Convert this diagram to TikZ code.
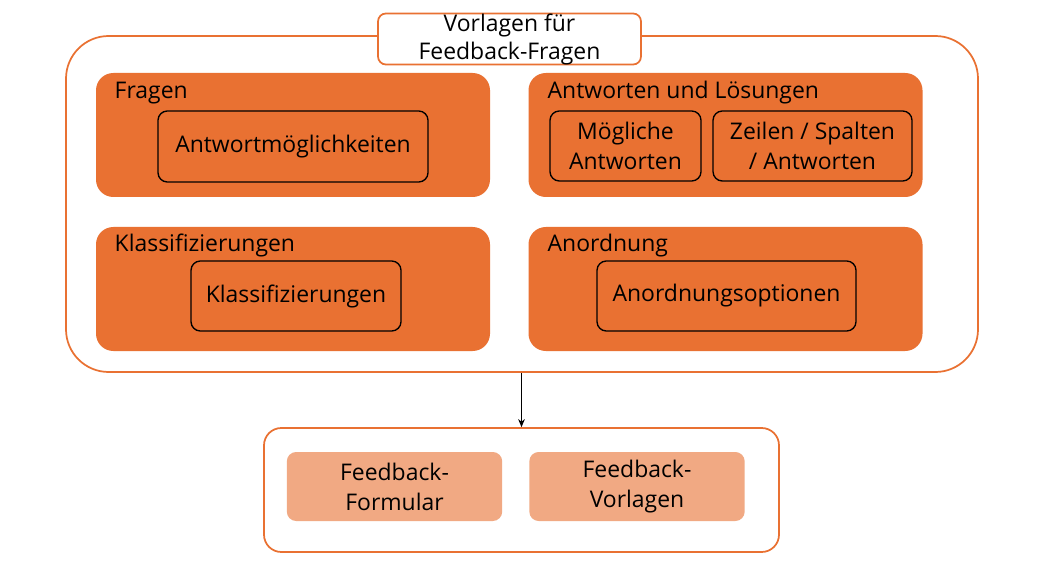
\documentclass[tikz,border=0pt]{standalone}
\usepackage{fontspec}
\setmainfont{Open Sans}
\usepackage{xcolor}
\usepackage{tikz}
\usetikzlibrary{positioning,arrows.meta}

\definecolor{vorlorange}{HTML}{E97132}
\definecolor{vorllight}{HTML}{F1A983}

\begin{document}
\begin{tikzpicture}[x=0.75pt, y=-0.75pt, >={Stealth[length=6pt, width=5pt]},
    font=\fontsize{17.2}{22.5}\selectfont,
    frame/.style={draw=vorlorange, line width=1.3pt, fill=white, rounded corners=#1},
    group/.style={fill=vorlorange, rounded corners=13pt, minimum width=295.5pt, minimum height=93pt, inner sep=0pt},
    item/.style={draw=black, line width=1pt, rounded corners=7pt, align=center, inner sep=0pt},
    result/.style={fill=vorllight, rounded corners=7pt, align=center, inner sep=0pt, minimum width=161.5pt, minimum height=51.75pt},
    grouplabel/.style={anchor=base west}]

\useasboundingbox (0,0) rectangle (1041,577);

% Outer frame with title
\node[frame=32pt, minimum width=684pt, minimum height=252pt, inner sep=0pt] (outer) at (522, 204) {};
\node[frame=6pt, minimum width=197.25pt, minimum height=37.5pt, inner sep=0pt, align=center, font=\fontsize{17.2}{21}\selectfont] (title) at (509.5, 39) {Vorlagen für\\Feedback-Fragen};

% Group: Fragen
\node[group] (fragen) at (293, 135) {};
\node[grouplabel] (fragenlab) at (110, 99) {Fragen};
\node[item, minimum width=202.5pt, minimum height=53.25pt] (moegl) at (293, 146.5) {Antwortmöglichkeiten};

% Group: Antworten und Loesungen
\node[group] (antw) at (725.5, 135) {};
\node[grouplabel] (antwlab) at (543, 99) {Antworten und Lösungen};
\node[item, minimum width=113.25pt, minimum height=52.5pt] (moeglantw) at (625.5, 146) {Mögliche\\Antworten};
\node[item, minimum width=149.25pt, minimum height=52.5pt] (zeilen) at (812.5, 146) {Zeilen / Spalten\\/ Antworten};

% Group: Klassifizierungen
\node[group] (klass) at (293, 289) {};
\node[grouplabel] (klasslab) at (110, 252) {Klassifizierungen};
\node[item, minimum width=157.5pt, minimum height=52.5pt] (klassitem) at (296, 296) {Klassifizierungen};

% Group: Anordnung
\node[group] (anord) at (725.5, 289) {};
\node[grouplabel] (anordlab) at (543, 252) {Anordnung};
\node[item, minimum width=194.25pt, minimum height=52.5pt] (anorditem) at (726.5, 296) {Anordnungsoptionen};

% Result frame
\node[frame=13pt, minimum width=386.25pt, minimum height=93pt, inner sep=0pt] (bottom) at (521.5, 490) {};
\node[result] (formular) at (394.5, 486.5) {Feedback-\\Formular};
\node[result] (vorlagen) at (637, 486.5) {Feedback-\\Vorlagen};

% Connector
\draw[->, line width=1pt] (outer.south -| bottom.north) -- (bottom.north);

\end{tikzpicture}
\end{document}
